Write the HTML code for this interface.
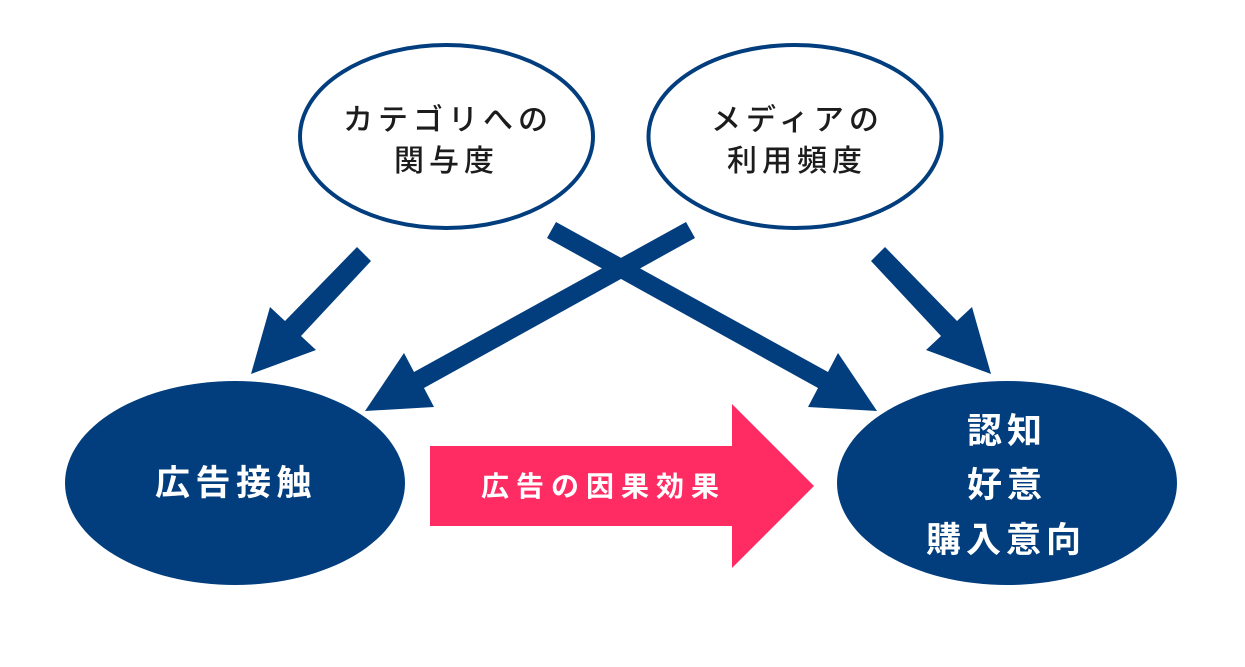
<!DOCTYPE html>
<html>
<head>
<meta charset="utf-8">
<style>
html,body{margin:0;padding:0;background:#fff;}
body{width:1245px;height:667px;overflow:hidden;}
svg{display:block;}
.t{font-family:"Liberation Sans","Noto Sans CJK JP",sans-serif;}
</style>
</head>
<body>
<svg width="1245" height="667" viewBox="0 0 1245 667" xmlns="http://www.w3.org/2000/svg">
  <rect width="1245" height="667" fill="#fff"/>
  <!-- top ellipses -->
  <ellipse cx="446.5" cy="136.5" rx="146.5" ry="91.5" fill="#fff" stroke="#023e7d" stroke-width="4"/>
  <ellipse cx="795" cy="136.5" rx="146.5" ry="91.5" fill="#fff" stroke="#023e7d" stroke-width="4"/>
  <!-- bottom ellipses -->
  <ellipse cx="235" cy="483" rx="170" ry="102" fill="#023e7d"/>
  <ellipse cx="1007" cy="483" rx="170" ry="102" fill="#023e7d"/>
  <!-- arrows -->
  <polygon fill="#023e7d" points="357,247 285,321 270,307 251,374 316,350 301,336 371,261"/>
  <polygon fill="#023e7d" points="885,247 957,321 972,307 991,374 926,350 941,336 871,261"/>
  <polygon fill="#023e7d" points="686,222 414,372 404,353 365,411 434,407 424,388 695,238"/>
  <polygon fill="#023e7d" points="556,222 828,372 838,353 877,411 808,407 818,388 547,238"/>
  <!-- pink arrow -->
  <polygon fill="#ff2b63" points="430,446 732,446 732,404 814,486 732,568 732,526 430,526"/>

  <!-- texts -->
  <g class="t" fill="#1c1c1c" font-size="30" font-weight="500" letter-spacing="5">
    <text x="343" y="130">カテゴリへの</text>
    <text x="394" y="171">関与度</text>
    <text x="711" y="130">メディアの</text>
    <text x="727" y="171">利用頻度</text>
  </g>
  <g class="t" fill="#fff" font-weight="700">
    <text x="155" y="495" font-size="35" letter-spacing="5.5">広告接触</text>
    <text x="967" y="443" font-size="35" letter-spacing="5">認知</text>
    <text x="967" y="497" font-size="35" letter-spacing="5">好意</text>
    <text x="926" y="552" font-size="35" letter-spacing="5">購入意向</text>
    <text x="481" y="496" font-size="28" letter-spacing="7">広告の因果効果</text>
  </g>
</svg>
</body>
</html>
